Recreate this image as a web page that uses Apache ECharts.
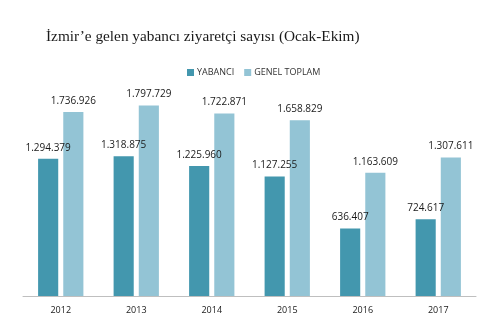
<!DOCTYPE html>
<html>
<head>
<meta charset="utf-8">
<script src="https://cdn.jsdelivr.net/npm/echarts@6/dist/echarts.min.js"></script>
<style>
  html, body { margin: 0; padding: 0; background: #fff; }
  #chart { width: 500px; height: 333px; }
</style>
</head>
<body>
<div id="chart"></div>
<script>
// Years shown on the category axis
const years = ['2012', '2013', '2014', '2015', '2016', '2017'];
// Foreign visitors (January–October)
const yabanci = [1294379, 1318875, 1225960, 1127255, 636407, 724617];
// Overall total visitors (January–October)
const genelToplam = [1736926, 1797729, 1722871, 1658829, 1163609, 1307611];
const seriesNames = ['YABANCI', 'GENEL TOPLAM'];

// Turkish-style thousands separator: 1.294.379
function fmt(v) {
  return String(v).replace(/\B(?=(\d{3})+(?!\d))/g, '.');
}

const labelStyle = {
  show: true,
  position: 'top',
  distance: 6,
  color: '#1a1a1a',
  fontFamily: '"Open Sans", "Liberation Sans", sans-serif',
  fontSize: 10,
  formatter: p => fmt(p.value)
};

const chart = echarts.init(document.getElementById('chart'), null, { renderer: 'canvas' });
chart.setOption({
  animation: false,
  backgroundColor: '#ffffff',
  title: {
    text: 'İzmir’e gelen yabancı ziyaretçi sayısı (Ocak-Ekim)',
    left: 41,
    top: 24,
    textStyle: {
      fontFamily: '"Liberation Serif", "DejaVu Serif", serif',
      fontWeight: 'normal',
      fontSize: 15.3,
      color: '#1a1a1a'
    }
  },
  legend: {
    data: seriesNames,
    left: 182,
    top: 63,
    itemWidth: 7,
    itemHeight: 7,
    itemGap: 10,
    icon: 'rect',
    textStyle: {
      fontFamily: '"Open Sans", "Liberation Sans", sans-serif',
      fontSize: 9,
      color: '#333',
      padding: [0, 0, 0, -2]
    }
  },
  grid: { left: 23, right: 24, top: 84, bottom: 37 },
  xAxis: {
    type: 'category',
    data: years,
    axisLine: { lineStyle: { color: '#bfbfbf', width: 1 } },
    axisTick: { show: false },
    axisLabel: {
      color: '#1a1a1a',
      fontFamily: '"Open Sans", "Liberation Sans", sans-serif',
      fontSize: 9,
      margin: 10
    }
  },
  yAxis: {
    type: 'value',
    min: 0,
    max: 2000000,
    show: false,
    splitLine: { show: false }
  },
  series: [
    {
      name: seriesNames[0],
      type: 'bar',
      data: yabanci,
      barGap: '25%',
      barCategoryGap: '40%',
      itemStyle: { color: '#4397ae' },
      label: labelStyle
    },
    {
      name: seriesNames[1],
      type: 'bar',
      data: genelToplam,
      barGap: '25%',
      barCategoryGap: '40%',
      itemStyle: { color: '#93c4d5' },
      label: labelStyle
    }
  ]
});
</script>
</body>
</html>
